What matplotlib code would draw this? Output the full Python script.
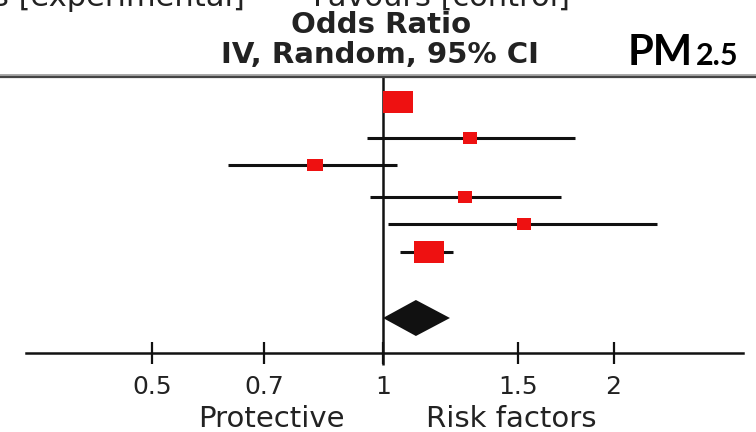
import numpy as np
import matplotlib
matplotlib.use("Agg")
import matplotlib.pyplot as plt
from matplotlib.ticker import FixedLocator, FixedFormatter, NullLocator

# study estimates (odds ratio, 95% CI)
odds = [1.046, 1.299, 0.814, 1.280, 1.528, 1.147]
ci_lo = [1.00, 0.952, 0.628, 0.962, 1.016, 1.052]
ci_hi = [1.09, 1.781, 1.042, 1.709, 2.277, 1.235]
weights = [33.7, 8.4, 9.6, 8.4, 8.4, 31.5]

# pooled estimate (diamond)
pooled = 1.104
pooled_lo = 1.00
pooled_hi = 1.223

tick_vals = [0.5, 0.7, 1, 1.5, 2]
tick_labels = ["0.5", "0.7", "1", "1.5", "2"]

# layout (pixel rows, image is 756x432)
W, H = 756, 432
row_y = [101.7, 138.3, 164.5, 196.7, 224.3, 251.7]
diamond_y = 318
axis_y = 353
PX_PER_LN = 332.6
X_ONE = 383


def px2x(p):
    return np.exp((p - X_ONE) / PX_PER_LN)


red = "#ee1111"
ink = "#111111"

fig = plt.figure(figsize=(W / 100, H / 100), dpi=100)
ax = fig.add_axes([0, 0, 1, 1])
ax.set_xscale("log")
ax.set_xlim(px2x(0), px2x(W))
ax.set_ylim(H, 0)

# CI lines + weighted boxes
box = [(-0.68, -0.5), (0.68, -0.5), (0.68, 0.5), (-0.68, 0.5), (-0.68, -0.5)]
for o, lo, hi, w, y in zip(odds, ci_lo, ci_hi, weights, row_y):
    ax.plot([lo, hi], [y, y], color=ink, lw=2.2, solid_capstyle="butt", zorder=2)
    size_px = 5.17 * np.sqrt(w)
    ax.plot([o], [y], marker=box, ms=size_px / 1.389, color=red, mec=red,
            mew=0, linestyle="none", zorder=3)

# pooled diamond
ax.fill([pooled_lo, pooled, pooled_hi, pooled],
        [diamond_y, diamond_y - 18, diamond_y, diamond_y + 18],
        color=ink, lw=0, zorder=3)

# line of no effect + header rule
ax.vlines(1, 77, axis_y + 12, color=ink, lw=1.8, zorder=1)
ax.axhline(74.5, color="#999999", lw=1.2)
ax.axhline(76.5, color="#444444", lw=1.6)

# x axis
for s in ["top", "left", "right"]:
    ax.spines[s].set_visible(False)
ax.spines["bottom"].set_position(("data", axis_y))
ax.spines["bottom"].set_bounds(px2x(26.5), px2x(742.5))
ax.spines["bottom"].set_linewidth(1.8)
ax.spines["bottom"].set_color(ink)
ax.xaxis.set_major_locator(FixedLocator(tick_vals))
ax.xaxis.set_major_formatter(FixedFormatter(tick_labels))
ax.xaxis.set_minor_locator(NullLocator())
ax.tick_params(axis="x", direction="inout", length=16, width=1.6, color=ink,
               labelsize=18, labelcolor="#222222", pad=8)
ax.set_yticks([])

# texts
def ftext(x, y, s, **kw):
    fig.text(x / W, 1 - y / H, s, **kw)

ftext(245, 6, "Favours [experimental]", ha="right", va="baseline",
      fontsize=22, color="#222222")
ftext(313, 6, "Favours [control]", ha="left", va="baseline",
      fontsize=22, color="#222222")
ftext(381, 33, "Odds Ratio", ha="center", va="baseline", fontsize=21,
      fontweight="bold", color="#222222")
ftext(380, 63, "IV, Random, 95% CI", ha="center", va="baseline",
      fontsize=21, fontweight="bold", color="#222222")
ftext(271.5, 427, "Protective", ha="center", va="baseline", fontsize=21,
      color="#222222")
ftext(511.7, 427, "Risk factors", ha="center", va="baseline", fontsize=21,
      color="#222222")
ftext(628, 65, "PM", ha="left", va="baseline", fontsize=30,
      fontweight="bold", family="Lato", color="black")
ftext(696, 65, "2.5", ha="left", va="baseline", fontsize=22,
      fontweight="bold", family="Lato", color="black")

fig.savefig("out.png", dpi=100)
